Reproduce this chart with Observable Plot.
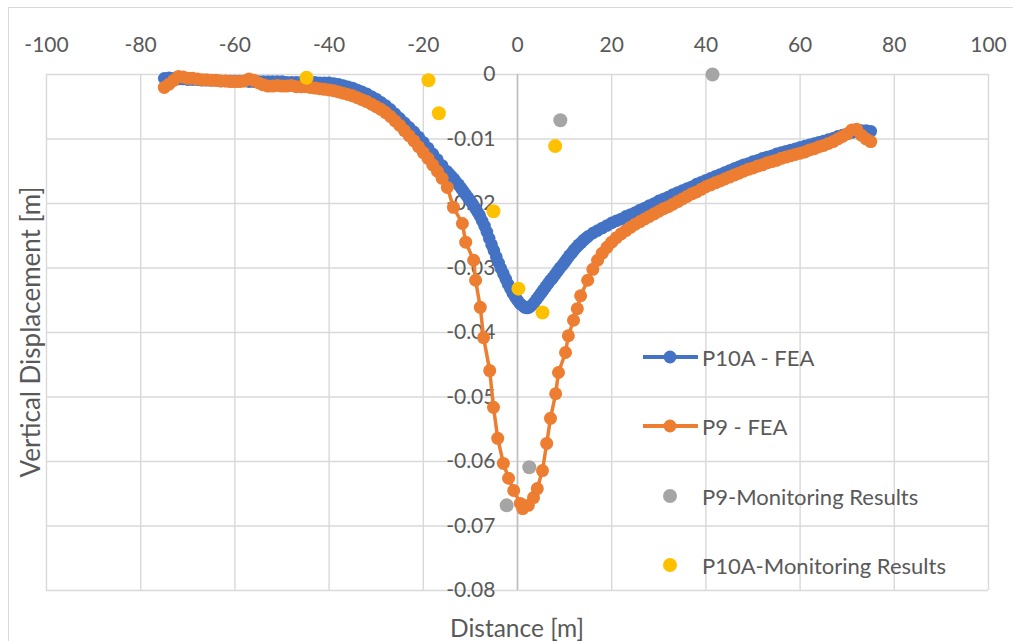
<!DOCTYPE html>
<html>
<head>
<meta charset="utf-8">
<script src="https://cdn.jsdelivr.net/npm/d3@7"></script>
<script src="https://cdn.jsdelivr.net/npm/@observablehq/plot@0.6"></script>
<style>
  html, body { margin: 0; padding: 0; background: #fff; overflow: hidden; }
  #wrap { position: relative; width: 1013px; height: 641px; font-family: Lato, "Open Sans", sans-serif; color: #595959; }
  #border { position: absolute; left: 8px; top: 7px; width: 1100px; height: 700px; border: 1px solid #d9d9d9; box-sizing: border-box; }
  #chart { position: absolute; left: 0; top: 0; }
  .title { position: absolute; font-size: 24.5px; white-space: nowrap; }
  .leg { position: absolute; left: 643px; height: 24px; display: flex; align-items: center; font-size: 22px; white-space: nowrap; }
  .leg svg { margin-right: 4px; }
</style>
</head>
<body>
<div id="wrap">
  <div id="border"></div>
  <div id="chart"></div>
</div>
<script>
// ---- data ----
const distanceTicks = [-100, -80, -60, -40, -20, 0, 20, 40, 60, 80, 100];
const displacementTicks = [0, -0.01, -0.02, -0.03, -0.04, -0.05, -0.06, -0.07, -0.08];

const seriesNames = ["P10A - FEA", "P9 - FEA", "P9-Monitoring Results", "P10A-Monitoring Results"];
const seriesColors = ["#4472C4", "#ED7D31", "#A5A5A5", "#FFC000"];

// P10A - FEA
const p10aX = [-75,-74,-73,-72,-71,-70,-69,-68,-67,-66,-65,-64,-63,-62,-61,-60,-59,-58,-57,-56,-55,-54,-53,-52,-51,-50,-49,-48,-47,-46,-45,-44,-43,-42,-41,-40,-39,-38,-37,-36,-35,-34,-33,-32,-31,-30,-29,-28,-27,-26,-25,-24,-23,-22,-21,-20,-19,-18,-17,-16,
  -15,-14.5,-14,-13.5,-13,-12.5,-12,-11.5,-11,-10.5,-10,-9.5,-9,-8.5,-8,-7.5,-7,-6.5,-6,-5.5,-5,-4.5,-4,-3.5,-3,-2.5,-2,-1.5,-1,-0.5,0,0.5,1,1.5,2,2.5,3,3.5,4,4.5,5,5.5,6,6.5,7,7.5,8,8.5,9,9.5,10,10.5,11,11.5,12,12.5,13,13.5,14,14.5,
  15,16,17,18,19,20,21,22,23,24,25,26,27,28,29,30,31,32,33,34,35,36,37,38,39,40,41,42,43,44,45,46,47,48,49,50,51,52,53,54,55,56,57,58,59,60,61,62,63,64,65,66,67,68,69,70,71,72,73,74,75];
const p10aY = [-0.0006,-0.0005,-0.0006,-0.0007,-0.0007,-0.0008,-0.0008,-0.0008,-0.0009,-0.0009,-0.0009,-0.0009,-0.0010,-0.0010,-0.0010,-0.0010,-0.0010,-0.0010,-0.0011,-0.0011,-0.0011,-0.0011,-0.0011,-0.0011,-0.0011,-0.0011,-0.0012,-0.0012,-0.0012,-0.0012,-0.0012,-0.0012,-0.0012,-0.0013,-0.0013,-0.0013,-0.0014,-0.0015,-0.0017,-0.0019,-0.0021,-0.0024,-0.0027,-0.0030,-0.0034,-0.0038,-0.0043,-0.0048,-0.0054,-0.0061,-0.0068,-0.0075,-0.0082,-0.0089,-0.0097,-0.0105,-0.0114,-0.0123,-0.0132,-0.0141,
  -0.0150,-0.0154,-0.0158,-0.0162,-0.0167,-0.0171,-0.0176,-0.0181,-0.0186,-0.0191,-0.0196,-0.0201,-0.0207,-0.0213,-0.0219,-0.0227,-0.0235,-0.0244,-0.0254,-0.0264,-0.0273,-0.0283,-0.0292,-0.0301,-0.0309,-0.0317,-0.0325,-0.0332,-0.0339,-0.0345,-0.0350,-0.0355,-0.0358,-0.0361,-0.0362,-0.0361,-0.0358,-0.0354,-0.0349,-0.0344,-0.0339,-0.0334,-0.0329,-0.0324,-0.0319,-0.0315,-0.0310,-0.0305,-0.0300,-0.0296,-0.0291,-0.0286,-0.0281,-0.0277,-0.0272,-0.0268,-0.0264,-0.0261,-0.0257,-0.0254,
  -0.0251,-0.0246,-0.0242,-0.0238,-0.0234,-0.0230,-0.0227,-0.0224,-0.0220,-0.0217,-0.0214,-0.0210,-0.0207,-0.0203,-0.0200,-0.0196,-0.0193,-0.0190,-0.0186,-0.0183,-0.0180,-0.0177,-0.0174,-0.0170,-0.0167,-0.0164,-0.0161,-0.0158,-0.0155,-0.0152,-0.0149,-0.0146,-0.0143,-0.0140,-0.0138,-0.0135,-0.0133,-0.0130,-0.0128,-0.0126,-0.0123,-0.0121,-0.0119,-0.0117,-0.0115,-0.0113,-0.0111,-0.0109,-0.0107,-0.0105,-0.0103,-0.0101,-0.0099,-0.0096,-0.0094,-0.0092,-0.0090,-0.0088,-0.0087,-0.0087,-0.0088];

// P9 - FEA
const p9X = [-75,-74,-73,-72,-71,-70,-69,-68,-67,-66,-65,-64,-63,-62,-61,-60,-59,-58,-57,-56,-55,-54,-53,-52,-51,-50,-49,-48,-47,-46,-45,-44,-43,-42,-41,-40,-39,-38,-37,-36,-35,-34,-33,-32,-31,-30,-29,-28,-27,-26,-25,-24,-23,-22,-21,-20,-19,-18,-17,-16,
  -14.9,-13.6,-11.7,-11.0,-9.3,-8.9,-7.9,-7.2,-5.9,-5.1,-4.2,-3.0,-1.9,-0.8,0.6,1.1,2.3,3.4,4.2,5.3,6.2,7.0,8.1,8.7,10.2,10.8,11.9,12.7,13.4,14.9,
  16,17,18,19,20,21,22,23,24,25,26,27,28,29,30,31,32,33,34,35,36,37,38,39,40,41,42,43,44,45,46,47,48,49,50,51,52,53,54,55,56,57,58,59,60,61,62,63,64,65,66,67,68,69,70,71,72,73,74,75];
const p9Y = [-0.0020,-0.0015,-0.0009,-0.0003,-0.0004,-0.0006,-0.0006,-0.0007,-0.0008,-0.0008,-0.0009,-0.0009,-0.0010,-0.0010,-0.0011,-0.0011,-0.0011,-0.0010,-0.0007,-0.0009,-0.0013,-0.0016,-0.0018,-0.0018,-0.0017,-0.0018,-0.0018,-0.0017,-0.0019,-0.0019,-0.0019,-0.0020,-0.0021,-0.0022,-0.0023,-0.0024,-0.0025,-0.0027,-0.0029,-0.0031,-0.0033,-0.0036,-0.0039,-0.0042,-0.0046,-0.0050,-0.0054,-0.0059,-0.0065,-0.0072,-0.0079,-0.0087,-0.0095,-0.0103,-0.0112,-0.0121,-0.0130,-0.0140,-0.0150,-0.0161,
  -0.0175,-0.0206,-0.0231,-0.0260,-0.0288,-0.0319,-0.0361,-0.0408,-0.0459,-0.0516,-0.0564,-0.0603,-0.0626,-0.0645,-0.0665,-0.0673,-0.0668,-0.0656,-0.0642,-0.0614,-0.0572,-0.0533,-0.0495,-0.0462,-0.0431,-0.0405,-0.0381,-0.0363,-0.0343,-0.0319,
  -0.0302,-0.0288,-0.0277,-0.0268,-0.0260,-0.0253,-0.0247,-0.0242,-0.0237,-0.0232,-0.0228,-0.0224,-0.0220,-0.0216,-0.0212,-0.0208,-0.0205,-0.0201,-0.0197,-0.0193,-0.0189,-0.0185,-0.0182,-0.0178,-0.0174,-0.0171,-0.0168,-0.0165,-0.0162,-0.0159,-0.0156,-0.0153,-0.0150,-0.0147,-0.0145,-0.0142,-0.0140,-0.0137,-0.0135,-0.0133,-0.0130,-0.0128,-0.0126,-0.0124,-0.0122,-0.0120,-0.0117,-0.0115,-0.0112,-0.0110,-0.0107,-0.0104,-0.0100,-0.0096,-0.0092,-0.0086,-0.0085,-0.0094,-0.0100,-0.0104];

// Monitoring results
const p9MonX = [41.4, 9.1, 2.5, -2.3];
const p9MonY = [0, -0.0071, -0.0609, -0.0668];
const p10aMonX = [-44.8, -18.9, -16.7, -5.1, 0.2, 5.3, 8.0];
const p10aMonY = [-0.0005, -0.0009, -0.0060, -0.0212, -0.0332, -0.0369, -0.0111];

// ---- build tables ----
const zip = (xs, ys) => xs.map((x, i) => ({x, y: ys[i]}));
const p10a = zip(p10aX, p10aY);
const p9 = zip(p9X, p9Y);
const p9Mon = zip(p9MonX, p9MonY);
const p10aMon = zip(p10aMonX, p10aMonY);

const textColor = "#595959";
const gridColor = "#d9d9d9";
const fmtY = d => d === 0 ? "0" : d.toFixed(2);

const chart = Plot.plot({
  width: 1013,
  height: 641,
  marginLeft: 46,
  marginRight: 25,
  marginTop: 74,
  marginBottom: 51,
  x: {domain: [-100, 100]},
  y: {domain: [-0.08, 0], axis: null},
  style: {fontFamily: "Lato, 'Open Sans', sans-serif", fontSize: "21px", color: textColor, background: "transparent", overflow: "visible"},
  marks: [
    Plot.gridX(distanceTicks, {stroke: gridColor, strokeOpacity: 1, strokeWidth: 1.4}),
    Plot.gridY(displacementTicks, {stroke: gridColor, strokeOpacity: 1, strokeWidth: 1.4}),
    Plot.ruleX([0], {stroke: "#bfbfbf", strokeWidth: 1.6}),
    Plot.axisX(distanceTicks, {anchor: "top", tickSize: 0, tickPadding: 23, tickFormat: d => String(d), label: null, fill: textColor, fontSize: 21}),
    Plot.text(displacementTicks, {x: 0, y: d => d, text: fmtY, textAnchor: "end", dx: -22, fill: textColor, fontSize: 21}),
    Plot.line(p10a, {x: "x", y: "y", stroke: seriesColors[0], strokeWidth: 4}),
    Plot.dot(p10a, {x: "x", y: "y", r: 6.3, fill: seriesColors[0]}),
    Plot.line(p9, {x: "x", y: "y", stroke: seriesColors[1], strokeWidth: 3.5}),
    Plot.dot(p9, {x: "x", y: "y", r: 6.5, fill: seriesColors[1]}),
    Plot.dot(p9Mon, {x: "x", y: "y", r: 7, fill: seriesColors[2]}),
    Plot.dot(p10aMon, {x: "x", y: "y", r: 7, fill: seriesColors[3]})
  ]
});
document.getElementById("chart").appendChild(chart);

// ---- titles ----
const wrap = document.getElementById("wrap");
const xt = document.createElement("div");
xt.className = "title";
xt.textContent = "Distance [m]";
xt.style.left = "517px"; xt.style.top = "627px"; xt.style.transform = "translate(-50%,-50%)";
wrap.appendChild(xt);
const yt = document.createElement("div");
yt.className = "title";
yt.textContent = "Vertical Displacement [m]";
yt.style.fontSize = "26px";
yt.style.left = "30px"; yt.style.top = "332px"; yt.style.transform = "translate(-50%,-50%) rotate(-90deg)";
wrap.appendChild(yt);

// ---- legend ----
const legendY = [357, 426, 496, 565];
seriesNames.forEach((name, i) => {
  const row = document.createElement("div");
  row.className = "leg";
  row.style.top = (legendY[i] - 12) + "px";
  const hasLine = i < 2;
  row.innerHTML = `<svg width="55" height="24">${hasLine ? `<line x1="0" x2="54" y1="12" y2="12" stroke="${seriesColors[i]}" stroke-width="4" stroke-linecap="round"/>` : ""}<circle cx="27" cy="12" r="${hasLine ? 6.5 : 7}" fill="${seriesColors[i]}"/></svg><span>${name}</span>`;
  wrap.appendChild(row);
});
</script>
</body>
</html>
